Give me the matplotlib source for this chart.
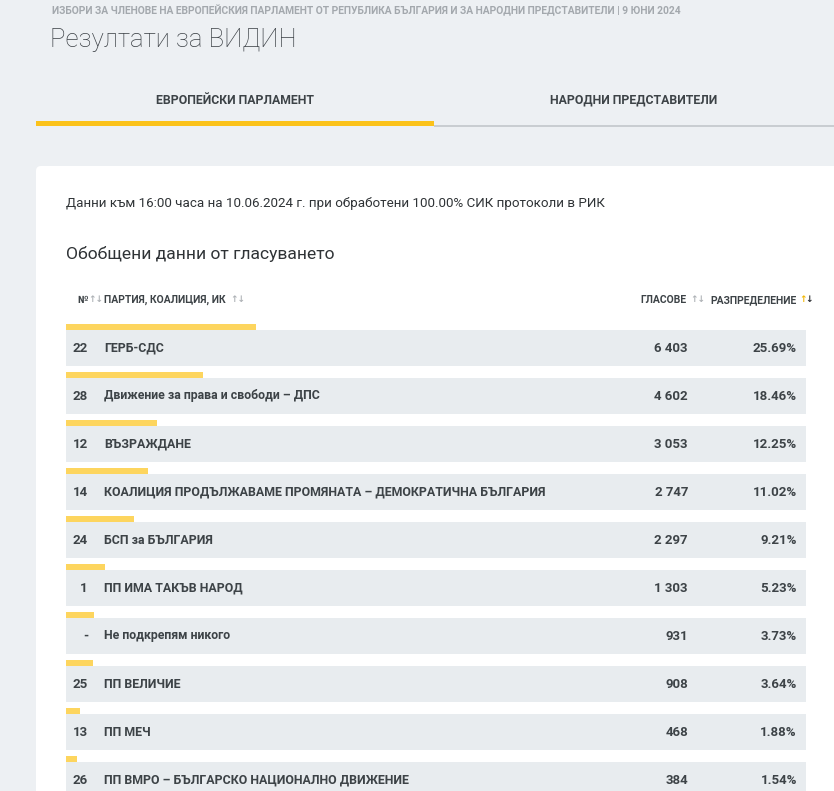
import matplotlib
matplotlib.use('Agg')
import matplotlib.pyplot as plt
from matplotlib.patches import FancyBboxPatch, Rectangle

# data
numbers = ['22', '28', '12', '14', '24', '1', '-', '25', '13', '26']
parties = ['ГЕРБ-СДС',
           'Движение за права и свободи – ДПС',
           'ВЪЗРАЖДАНЕ',
           'КОАЛИЦИЯ ПРОДЪЛЖАВАМЕ ПРОМЯНАТА – ДЕМОКРАТИЧНА БЪЛГАРИЯ',
           'БСП за БЪЛГАРИЯ',
           'ПП ИМА ТАКЪВ НАРОД',
           'Не подкрепям никого',
           'ПП ВЕЛИЧИЕ',
           'ПП МЕЧ',
           'ПП ВМРО – БЪЛГАРСКО НАЦИОНАЛНО ДВИЖЕНИЕ']
votes = [6403, 4602, 3053, 2747, 2297, 1303, 931, 908, 468, 384]
percents = [25.69, 18.46, 12.25, 11.02, 9.21, 5.23, 3.73, 3.64, 1.88, 1.54]

header = 'ИЗБОРИ ЗА ЧЛЕНОВЕ НА ЕВРОПЕЙСКИЯ ПАРЛАМЕНТ ОТ РЕПУБЛИКА БЪЛГАРИЯ И ЗА НАРОДНИ ПРЕДСТАВИТЕЛИ | 9 ЮНИ 2024'
title = 'Резултати за ВИДИН'
tabs = ['ЕВРОПЕЙСКИ ПАРЛАМЕНТ', 'НАРОДНИ ПРЕДСТАВИТЕЛИ']
note = 'Данни към 16:00 часа на 10.06.2024 г. при обработени 100.00% СИК протоколи в РИК'
subtitle = 'Обобщени данни от гласуването'
columns = ['№', 'ПАРТИЯ, КОАЛИЦИЯ, ИК', 'ГЛАСОВЕ', 'РАЗПРЕДЕЛЕНИЕ']

FONT = ['Roboto', 'DejaVu Sans']
BG = '#edf0f3'
ROWBG = '#e8ecef'
TXT = '#3d4347'
YEL = '#fdd55e'
ICON = '#aeb2b6'

W, H = 834, 791
fig = plt.figure(figsize=(W / 100, H / 100), dpi=100)
fig.patch.set_facecolor(BG)
ax = fig.add_axes([0, 0, 1, 1])
ax.set_xlim(0, W)
ax.set_ylim(H, 0)
ax.axis('off')

# page header
ax.text(52, 11, header, family=FONT, weight='bold', fontsize=7.4, color='#a3a8ad', va='center')
ax.text(50, 40, title, family=FONT, weight='light', fontsize=18.5, color='#3a3f44', va='center')

# tabs
ax.text(235, 100, tabs[0], family=FONT, weight='bold', fontsize=8.8, color=TXT, va='center', ha='center')
ax.text(634, 100, tabs[1], family=FONT, weight='bold', fontsize=8.8, color=TXT, va='center', ha='center')
ax.add_patch(Rectangle((434, 125), 400, 1.5, color='#c9cdd1', lw=0))
ax.add_patch(Rectangle((36, 121), 398, 5, color='#fbc21a', lw=0))

# card
ax.add_patch(FancyBboxPatch((36, 166), 900, 700, boxstyle='round,pad=0,rounding_size=5',
                            fc='white', ec='none'))

ax.text(66, 204, note, family=FONT, fontsize=9.6, color='#2f3336', va='center')
ax.text(66, 254, subtitle, family=FONT, fontsize=12.6, color='#2f3336', va='center')

# column headers
hy = 300
hs = 7.5
ax.text(77, hy, columns[0], family=FONT, weight='bold', fontsize=hs, color=TXT, va='center')
ax.text(88, hy - 0.5, '↑↓', family=FONT, weight='bold', fontsize=6.5, color=ICON, va='center')
ax.text(104, hy, columns[1], family=FONT, weight='bold', fontsize=hs, color=TXT, va='center')
ax.text(230, hy - 0.5, '↑↓', family=FONT, weight='bold', fontsize=6.5, color=ICON, va='center')
ax.text(687, hy, columns[2], family=FONT, weight='bold', fontsize=hs, color=TXT, va='center', ha='right')
ax.text(690, hy - 0.5, '↑↓', family=FONT, weight='bold', fontsize=6.5, color=ICON, va='center')
ax.text(797, hy, columns[3], family=FONT, weight='bold', fontsize=hs, color=TXT, va='center', ha='right')
ax.text(799, hy - 1, '↑', family=FONT, weight='bold', fontsize=6.5, color='#f2b705', va='center')
ax.text(805, hy, '↓', family=FONT, weight='bold', fontsize=6.5, color='#2a2d30', va='center')

# rows
step = 48
top0 = 330
row_h = 36
tops = [top0 + i * step for i in range(len(parties))]
ax.barh([t + row_h / 2 for t in tops], [740] * len(tops), height=row_h, left=66, color=ROWBG, lw=0)
ax.barh([t - 3.2 for t in tops], [p * 7.4 for p in percents], height=5.5, left=66, color=YEL, lw=0)

for t, n, p, v, pc in zip(tops, numbers, parties, votes, percents):
    cy = t + row_h / 2
    ax.text(88, cy, n, family=FONT, weight='bold', fontsize=9.5, color=TXT, va='center', ha='right')
    ax.text(104, cy, p, family=FONT, weight='bold', fontsize=8.9, color=TXT, va='center')
    ax.text(688, cy, f'{v:,}'.replace(',', ' '), family=FONT, weight='bold', fontsize=9.5,
            color=TXT, va='center', ha='right')
    ax.text(797, cy, f'{pc:.2f}%', family=FONT, weight='bold', fontsize=9.5, color=TXT,
            va='center', ha='right')

fig.savefig('out.png', dpi=100, facecolor=BG)
